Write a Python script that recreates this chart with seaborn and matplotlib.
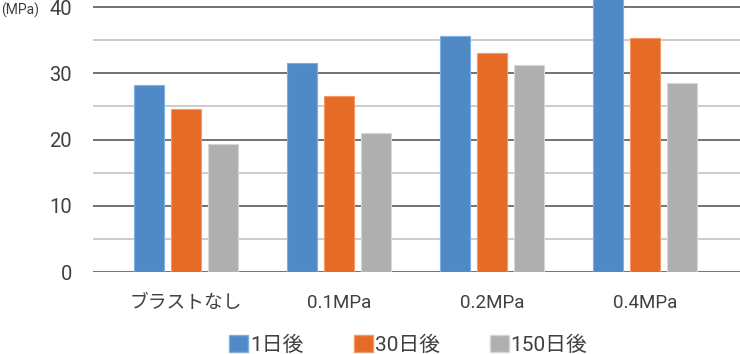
import matplotlib
matplotlib.use("Agg")
import matplotlib.pyplot as plt
import seaborn as sns
import pandas as pd
from matplotlib.patches import Patch

categories = ['ブラストなし', '0.1MPa', '0.2MPa', '0.4MPa']
series = ['1日後', '30日後', '150日後']
day1 = [28.2, 31.5, 35.6, 42.5]
day30 = [24.6, 26.6, 33.1, 35.3]
day150 = [19.3, 21.0, 31.2, 28.5]
colors = ['#4f8ac7', '#e56b26', '#afafaf']
edges = ['#7fb0e0', '#f39a66', '#d6d6d6']

df = pd.DataFrame({
    'cat': categories * 3,
    'series': [s for s in series for _ in categories],
    'val': day1 + day30 + day150,
})

sns.set_theme(style='white')
plt.rcParams['font.family'] = ['Roboto', 'Noto Sans CJK JP', 'DejaVu Sans']

fig = plt.figure(figsize=(7.4, 3.54), dpi=100)
ax = fig.add_axes([93 / 740, 1 - 272 / 354, 1 - 93 / 740, 272 / 354])

sns.barplot(data=df, x='cat', y='val', hue='series', order=categories,
            hue_order=series, palette=colors, saturation=1, width=0.726, gap=0.2,
            legend=False, ax=ax, zorder=3)
for i, cont in enumerate(ax.containers):
    for b in cont:
        b.set_edgecolor(edges[i])
        b.set_linewidth(0.8)

ax.set_xlim(-0.608, 3.62)
ax.set_ylim(0, 41.06)
ax.set_yticks([0, 10, 20, 30, 40])
ax.set_yticks([5, 15, 25, 35], minor=True)
ax.grid(axis='y', which='major', color='#5a5a5a', linewidth=1.2, zorder=1)
ax.grid(axis='y', which='minor', color='#c4c4c4', linewidth=1.2, zorder=1)
for s in ax.spines.values():
    s.set_visible(False)
ax.set_xlabel('')
ax.set_ylabel('')
ax.tick_params(axis='y', which='both', length=0, pad=15, labelsize=14.5, labelcolor='#404040')
ax.tick_params(axis='x', length=0, pad=16, labelsize=13.5, labelcolor='#404040')

fig.text(0.002, 1 - 10 / 354, '(MPa)', fontsize=10, color='#404040', va='center', ha='left')

handles = [Patch(facecolor=c, edgecolor=e) for c, e in zip(colors, edges)]
fig.legend(handles, series, loc='center', bbox_to_anchor=(0.552, 1 - 345 / 354),
           ncol=3, frameon=False, fontsize=15, handlelength=0.9, handleheight=0.9,
           handletextpad=0.1, columnspacing=2.4, labelcolor='#404040')

fig.savefig('out.png', dpi=100)
